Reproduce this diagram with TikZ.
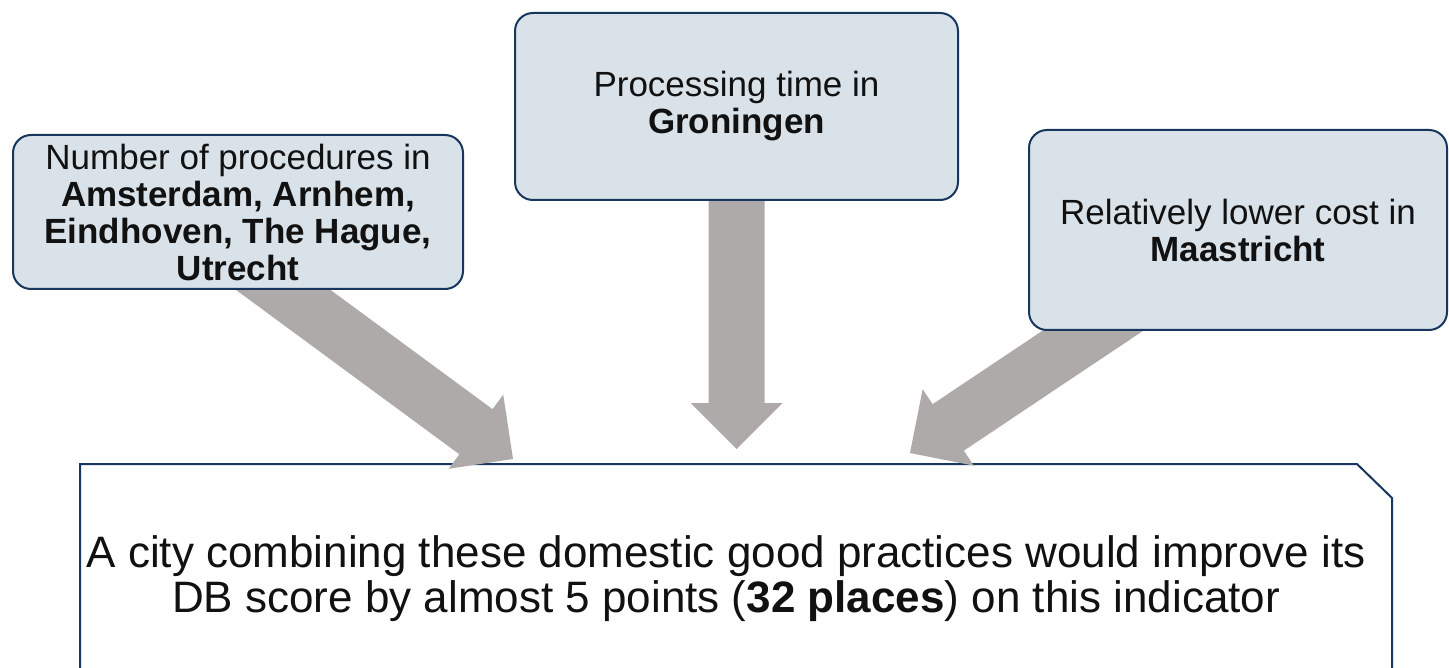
\documentclass[tikz,border=0pt]{standalone}
\usepackage{fontspec}
\setmainfont{Liberation Sans}
\usetikzlibrary{calc}
\definecolor{boxfill}{HTML}{D9E2E8}
\definecolor{navy}{HTML}{17375E}
\definecolor{arrowgray}{HTML}{AEAAAA}
\definecolor{txt}{HTML}{111111}
\newcommand{\bkarrow}[2]{%
  \coordinate (#1h) at ($(#2)!46pt!(#1)$);
  \fill[arrowgray]
    ($(#1)!28pt!90:(#2)$) -- ($(#1h)!28pt!90:(#2)$) -- ($(#1h)!46pt!90:(#2)$) --
    (#2) --
    ($(#1h)!46pt!-90:(#2)$) -- ($(#1h)!28pt!-90:(#2)$) -- ($(#1)!28pt!-90:(#2)$) -- cycle;
}
\begin{document}
\begin{tikzpicture}[x=1pt,y=-1pt,
  infobox/.style={draw=navy, line width=2pt, fill=boxfill, rounded corners=18pt,
    inner sep=0pt, align=center, text=txt, font=\fontsize{35}{37}\selectfont},
  resultbox/.style={draw=navy, line width=2pt, fill=white},
  resulttext/.style={align=center, text=txt, inner sep=0pt, font=\fontsize{44}{45}\selectfont}]
\useasboundingbox (0,0) rectangle (1449,668);
\clip (0,0) rectangle (1449,668);
\fill[white] (0,0) rectangle (1449,668);

% result box (snipped top-right corner)
\draw[resultbox] (80,690) -- (80,464) -- (1357,464) -- (1392,498) -- (1392,690);
\node[resulttext] (result) at (726,579)
  {A city combining these domestic good practices would improve its\\
   DB score by almost 5 points (\textbf{32 places}) on this indicator};

% arrow coordinates
\coordinate (la) at (217.6,241.6);
\coordinate (lt) at (513,459);
\coordinate (ma) at (736.5,150);
\coordinate (mt) at (736.5,449);
\coordinate (ra) at (1160.5,285.5);
\coordinate (rt) at (910,453);
\bkarrow{la}{lt}
\bkarrow{ma}{mt}
\bkarrow{ra}{rt}

% source boxes
\node[infobox, minimum width=450pt, minimum height=154pt] (left) at (238,212)
  {Number of procedures in\\ \textbf{Amsterdam, Arnhem,}\\ \textbf{Eindhoven, The Hague,}\\ \textbf{Utrecht}};
\node[infobox, minimum width=443pt, minimum height=187pt] (mid) at (736.5,106.5)
  {Processing time in\\ \textbf{Groningen}};
\node[infobox, minimum width=418pt, minimum height=200pt] (right) at (1238,230)
  {Relatively lower cost in\\ \textbf{Maastricht}};
\end{tikzpicture}
\end{document}
